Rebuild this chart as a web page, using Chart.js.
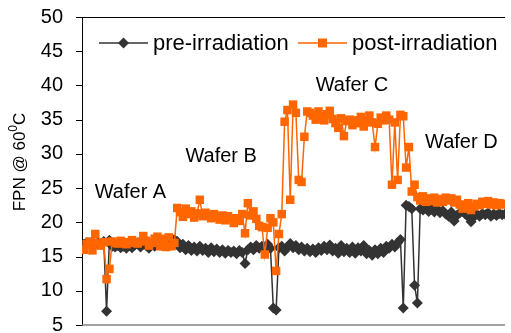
<!DOCTYPE html>
<html lang="en">
<head>
<meta charset="UTF-8">
<title>FPN @ 60C</title>
<script src="https://cdn.jsdelivr.net/npm/chart.js@4/dist/chart.umd.min.js"></script>
<style>
    html, body { margin: 0; padding: 0; background: #fff; }
    canvas { display: block; }
</style>
</head>
<body>
<canvas id="fpn" width="511" height="333"></canvas>
<script>
    // measured FPN per pixel column, four wafers in a row
    const preIrradiation = [
        16.8, 17.0, 16.9, 17.1, 16.8, 17.0, 16.9, 17.2, 7.0, 17.4,
        16.5, 16.4, 16.6, 16.3, 16.5, 16.2, 16.6, 16.3, 16.7, 16.9,
        16.4, 16.8, 16.6, 16.2, 16.7, 16.5, 17.0, 16.7, 17.2, 16.9,
        17.3, 17.1, 17.5,
        17.2, 16.3, 16.8, 16.0, 16.6, 15.9, 16.4, 15.8, 16.5, 15.9,
        16.2, 15.6, 16.3, 15.7, 16.1, 15.6, 16.0, 15.5, 15.9, 15.6,
        15.8, 15.4, 15.9, 15.6, 14.0, 16.0, 16.4, 16.0, 16.6, 16.2,
        16.5, 16.3, 16.8, 16.2, 7.5, 7.2, 16.3,
        16.5, 15.8, 16.4, 16.9, 16.3, 16.6, 16.0, 16.4, 15.8, 16.2,
        15.7, 16.1, 15.6, 16.3, 15.9, 16.5, 16.0, 16.7, 15.8, 16.2,
        15.5, 16.6, 15.7, 16.2, 15.6, 16.4, 15.5, 16.3, 15.8, 16.6,
        15.4, 15.9, 15.2, 16.0, 15.4, 16.2, 15.6, 16.5, 16.2, 16.8,
        16.4, 17.0, 17.5,
        7.5, 22.5, 22.3, 22.0, 10.8, 8.2, 22.0, 21.8, 22.1, 21.6,
        22.0, 21.5, 21.9, 21.4, 21.7, 21.2, 20.9, 21.5, 20.2, 21.0,
        21.4, 21.6, 21.2, 20.8, 20.1, 20.8, 21.2, 20.9, 21.3, 21.1,
        21.4, 20.9, 21.2, 21.0, 21.3, 21.1, 21.2
    ];
    const postIrradiation = [
        16.0, 16.8, 17.2, 15.9, 18.3, 17.0, 16.6, 17.1, 11.7, 13.2,
        17.2, 17.0, 16.9, 17.3, 17.0, 16.8, 17.1, 17.4, 17.0, 16.9,
        17.2, 18.0, 17.3, 16.6, 17.0, 17.6, 17.9, 16.5, 17.6, 16.4,
        17.8, 16.5, 17.0,
        22.1, 21.5, 20.8, 22.0, 21.2, 21.6, 20.7, 21.3, 23.3, 20.9,
        21.4, 21.0, 20.6, 21.2, 20.8, 20.4, 21.0, 20.3, 20.9, 20.5,
        19.9, 20.6, 20.2, 21.2, 18.4, 22.8, 21.0, 21.6, 20.5, 19.5,
        19.3, 15.3, 19.2, 20.6, 20.0, 12.9, 18.3,
        21.2, 34.7, 36.4, 23.3, 37.2, 36.0, 26.2, 25.9, 32.5, 36.2,
        36.0, 35.6, 35.0, 36.2, 35.4, 34.9, 35.8, 36.3, 35.1, 34.5,
        33.8, 35.2, 32.6, 34.8, 35.0, 34.2, 34.9, 34.5, 35.4, 34.0,
        34.8, 35.6, 34.6, 31.0, 34.4, 35.3, 34.9, 35.6, 35.0, 25.5,
        34.6, 26.2, 35.7,
        35.5, 28.0, 31.0, 24.5, 25.5, 23.7, 23.2, 23.8, 23.0, 23.5,
        23.1, 23.6, 22.9, 23.4, 23.0, 23.6, 23.2, 23.5, 22.9, 23.3,
        22.6, 22.0, 22.4, 22.8, 21.8, 22.3, 22.7, 22.5, 23.0, 22.7,
        23.1, 22.6, 22.9, 22.5, 22.8, 22.6, 22.7
    ];
    const seriesNames = ['pre-irradiation', 'post-irradiation'];
    const waferNames = ['Wafer A', 'Wafer B', 'Wafer C', 'Wafer D'];
    const yTicks = [5, 10, 15, 20, 25, 30, 35, 40, 45, 50];

    const FONT = "'Liberation Sans', Arial, sans-serif";
    const PRE_COLOR = '#333333';
    const POST_COLOR = '#ff6600';

    // text, frame and legend drawn over the plot, the way the spreadsheet had them
    const overlay = {
        id: 'overlay',
        afterDraw(chart) {
            const { ctx, chartArea: a, scales } = chart;
            const x = scales.x, y = scales.y;
            ctx.save();

            // frame lines: black top, grey bottom, short outward ticks
            ctx.lineWidth = 1;
            ctx.strokeStyle = '#000';
            ctx.beginPath();
            ctx.moveTo(a.left, a.top + 0.5);
            ctx.lineTo(a.right, a.top + 0.5);
            yTicks.forEach(v => {
                const py = Math.round(y.getPixelForValue(v)) + 0.5;
                ctx.moveTo(a.left - 6, py);
                ctx.lineTo(a.left, py);
            });
            ctx.stroke();
            ctx.strokeStyle = '#808080';
            ctx.lineWidth = 1.5;
            ctx.beginPath();
            ctx.moveTo(a.left, a.bottom);
            ctx.lineTo(a.right, a.bottom);
            ctx.stroke();

            // wafer captions
            ctx.fillStyle = '#000';
            ctx.font = '20px ' + FONT;
            ctx.textBaseline = 'middle';
            ctx.textAlign = 'left';
            const at = [[3.8, 24.4], [35.9, 29.6], [82, 40.0], [120.7, 31.6]];
            waferNames.forEach((w, i) => {
                ctx.fillText(w, x.getPixelForValue(at[i][0]), y.getPixelForValue(at[i][1]));
            });

            // legend
            const items = [
                { name: seriesNames[0], color: PRE_COLOR, style: 'diamond', x0: 99 },
                { name: seriesNames[1], color: POST_COLOR, style: 'square', x0: 298 }
            ];
            const ly = 43;
            ctx.font = '22px ' + FONT;
            items.forEach(it => {
                ctx.strokeStyle = it.color;
                ctx.lineWidth = 1.5;
                ctx.beginPath();
                ctx.moveTo(it.x0, ly);
                ctx.lineTo(it.x0 + 49, ly);
                ctx.stroke();
                const cx = it.x0 + 24.5;
                ctx.fillStyle = it.color;
                ctx.beginPath();
                if (it.style === 'diamond') {
                    ctx.moveTo(cx, ly - 5.5);
                    ctx.lineTo(cx + 5.5, ly);
                    ctx.lineTo(cx, ly + 5.5);
                    ctx.lineTo(cx - 5.5, ly);
                    ctx.closePath();
                } else {
                    ctx.rect(cx - 4.5, ly - 4.5, 9, 9);
                }
                ctx.fill();
                ctx.fillStyle = '#000';
                ctx.fillText(it.name, it.x0 + 54, ly + 1);
            });

            // y axis title with raised zero
            ctx.font = '17px ' + FONT;
            const main = 'FPN @ 60', sup = '0', tail = 'C';
            const wMain = ctx.measureText(main).width;
            const wTail = ctx.measureText(tail).width;
            ctx.font = '12px ' + FONT;
            const wSup = ctx.measureText(sup).width;
            const total = wMain + wSup + wTail;
            ctx.translate(25, 162);
            ctx.rotate(-Math.PI / 2);
            ctx.textBaseline = 'alphabetic';
            ctx.textAlign = 'left';
            let tx = -total / 2;
            ctx.font = '17px ' + FONT;
            ctx.fillText(main, tx, 0);
            tx += wMain;
            ctx.font = '12px ' + FONT;
            ctx.fillText(sup, tx, -8);
            tx += wSup;
            ctx.font = '17px ' + FONT;
            ctx.fillText(tail, tx, 0);

            ctx.restore();
        }
    };

    const toPoints = vals => vals.map((v, i) => ({ x: i, y: v }));

    new Chart(document.getElementById('fpn'), {
        type: 'line',
        data: {
            datasets: [
                {
                    label: seriesNames[1],
                    data: toPoints(postIrradiation),
                    borderColor: POST_COLOR,
                    backgroundColor: POST_COLOR,
                    borderWidth: 1.5,
                    pointStyle: 'rect',
                    pointRadius: 6,
                    pointBorderWidth: 0,
                    tension: 0,
                    order: 0
                },
                {
                    label: seriesNames[0],
                    data: toPoints(preIrradiation),
                    borderColor: PRE_COLOR,
                    backgroundColor: PRE_COLOR,
                    borderWidth: 1.5,
                    pointStyle: 'rectRot',
                    pointRadius: 5.5,
                    pointBorderWidth: 0,
                    tension: 0,
                    order: 1
                }
            ]
        },
        options: {
            responsive: false,
            animation: false,
            devicePixelRatio: 1,
            layout: { padding: { top: 17, right: 0, bottom: 8, left: 0 } },
            plugins: {
                legend: { display: false },
                tooltip: { enabled: false }
            },
            scales: {
                x: {
                    type: 'linear',
                    display: false,
                    min: -0.7,
                    max: preIrradiation.length - 1
                },
                y: {
                    min: yTicks[0],
                    max: yTicks[yTicks.length - 1],
                    afterBuildTicks(s) { s.ticks = yTicks.map(v => ({ value: v })); },
                    ticks: {
                        color: '#000',
                        padding: 0,
                        font: { family: FONT, size: 20, lineHeight: 0.8 }
                    },
                    grid: {
                        drawOnChartArea: false,
                        drawTicks: true,
                        tickLength: 19,
                        tickColor: 'rgba(0,0,0,0)'
                    },
                    border: { display: true, color: '#000', width: 1 },
                    afterFit(s) { s.width = 82; }
                }
            }
        },
        plugins: [overlay]
    });
</script>
</body>
</html>
